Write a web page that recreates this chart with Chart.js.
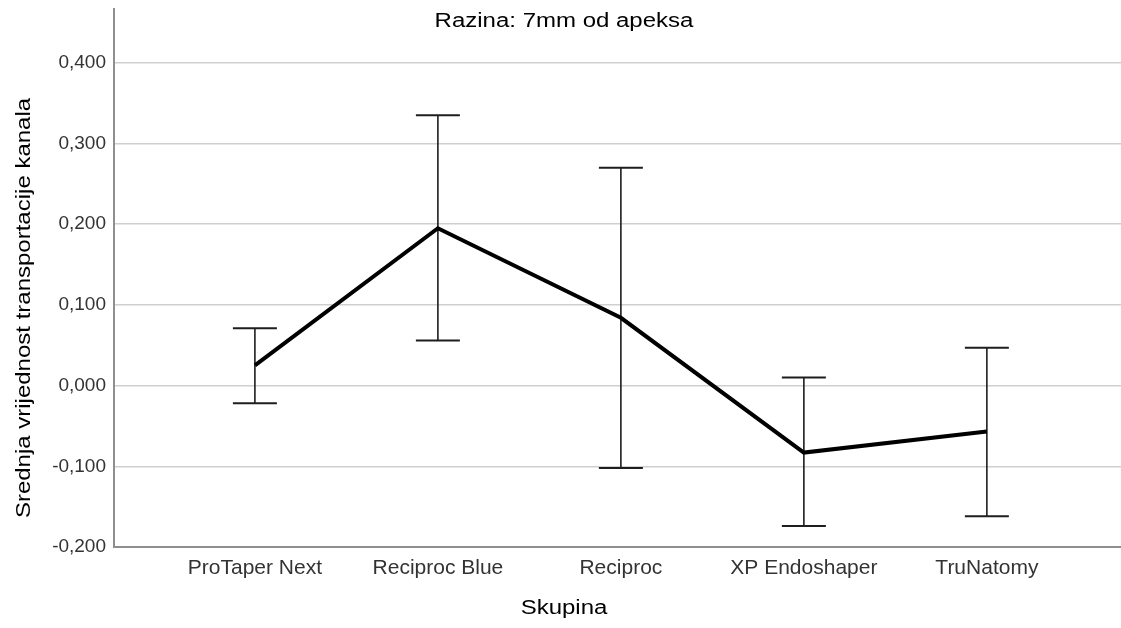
<!DOCTYPE html>
<html>
<head>
<meta charset="utf-8">
<script src="https://cdn.jsdelivr.net/npm/chart.js@4.4.1/dist/chart.umd.min.js"></script>
<style>
  html, body { margin: 0; padding: 0; background: #fff; }
  #wrap { width: 1121px; height: 628px; }
</style>
</head>
<body>
<div id="wrap"><canvas id="myChart" width="1121" height="628"></canvas></div>
<script>
// data
var categories = ["ProTaper Next", "Reciproc Blue", "Reciproc", "XP Endoshaper", "TruNatomy"];
var means      = [0.025, 0.195, 0.084, -0.083, -0.057];
var lowerCI    = [-0.022, 0.056, -0.102, -0.174, -0.162];
var upperCI    = [0.071, 0.335, 0.270, 0.010, 0.047];
var yTicks     = [-0.2, -0.1, 0.0, 0.1, 0.2, 0.3, 0.4];

var chartTitle = "Razina: 7mm od apeksa";
var xTitle = "Skupina";
var yTitle = "Srednja vrijednost transportacije kanala";

var fontFam = 'Arial, "Liberation Sans", sans-serif';

// mean points
var meanPts = [];
for (var i = 0; i < categories.length; i++) {
    meanPts.push({x: i, y: means[i]});
}

// whiskers: lo, hi, then a gap
var barPts = [];
for (var i = 0; i < categories.length; i++) {
    barPts.push({x: i, y: lowerCI[i]});
    barPts.push({x: i, y: upperCI[i]});
    barPts.push({x: i, y: null});
}

// SPSS text is a bit wider than Arial, so stretch it sideways
function stretchText(ctx, txt, x, y, rot) {
    ctx.save();
    ctx.translate(x, y);
    if (rot) ctx.rotate(rot);
    ctx.scale(1.2, 1);
    ctx.fillText(txt, 0, 0);
    ctx.restore();
}

var textPlugin = {
    id: 'texts',
    afterDraw: function(chart) {
        var ctx = chart.ctx;
        ctx.save();
        ctx.fillStyle = '#000';
        ctx.textAlign = 'center';
        ctx.textBaseline = 'middle';
        ctx.font = '20px ' + fontFam;
        stretchText(ctx, chartTitle, 564, 21, 0);
        stretchText(ctx, xTitle, 564, 608, 0);
        stretchText(ctx, yTitle, 24, 308, -Math.PI / 2);
        ctx.restore();
    }
};

var ctx = document.getElementById("myChart");
var myChart = new Chart(ctx, {
    type: 'line',
    data: {
        datasets: [{
            label: 'mean',
            data: meanPts,
            borderColor: '#000',
            borderWidth: 4,
            pointRadius: 0,
            fill: false,
            tension: 0,
            order: 0
        }, {
            label: 'ci',
            data: barPts,
            borderColor: '#1e1e1e',
            borderWidth: 1.6,
            pointStyle: 'line',
            pointRadius: 22,
            pointBorderColor: '#1e1e1e',
            pointBorderWidth: 2,
            spanGaps: false,
            fill: false,
            order: 1
        }]
    },
    options: {
        responsive: false,
        animation: false,
        events: [],
        layout: { autoPadding: false, padding: { top: 9, left: 0, right: 0, bottom: 0 } },
        plugins: {
            legend: { display: false },
            tooltip: { enabled: false },
            title: { display: false }
        },
        scales: {
            x: {
                type: 'linear',
                min: -0.77,
                max: 4.733,
                afterBuildTicks: function(scale) {
                    scale.ticks = categories.map(function(c, k) { return {value: k}; });
                },
                afterFit: function(scale) {
                    scale.height = 81;
                    scale.paddingLeft = 0;
                    scale.paddingRight = 0;
                },
                ticks: {
                    callback: function(v) { return categories[v]; },
                    color: '#333',
                    font: { size: 21, family: fontFam },
                    padding: 9,
                    maxRotation: 0,
                    autoSkip: false
                },
                grid: { display: false, drawTicks: false },
                border: { color: '#8f8f8f', width: 2 }
            },
            y: {
                min: -0.2,
                max: 0.4667,
                afterBuildTicks: function(scale) {
                    scale.ticks = yTicks.map(function(v) { return {value: v}; });
                },
                afterFit: function(scale) {
                    scale.width = 114;
                    scale.paddingTop = 0;
                    scale.paddingBottom = 0;
                },
                ticks: {
                    callback: function(v) { return v.toFixed(3).replace('.', ','); },
                    color: '#333',
                    font: { size: 19, family: fontFam },
                    padding: 8
                },
                grid: { color: '#cfcfcf', lineWidth: 1.6, drawTicks: false },
                border: { color: '#8f8f8f', width: 2 }
            }
        }
    },
    plugins: [textPlugin]
});
</script>
</body>
</html>
